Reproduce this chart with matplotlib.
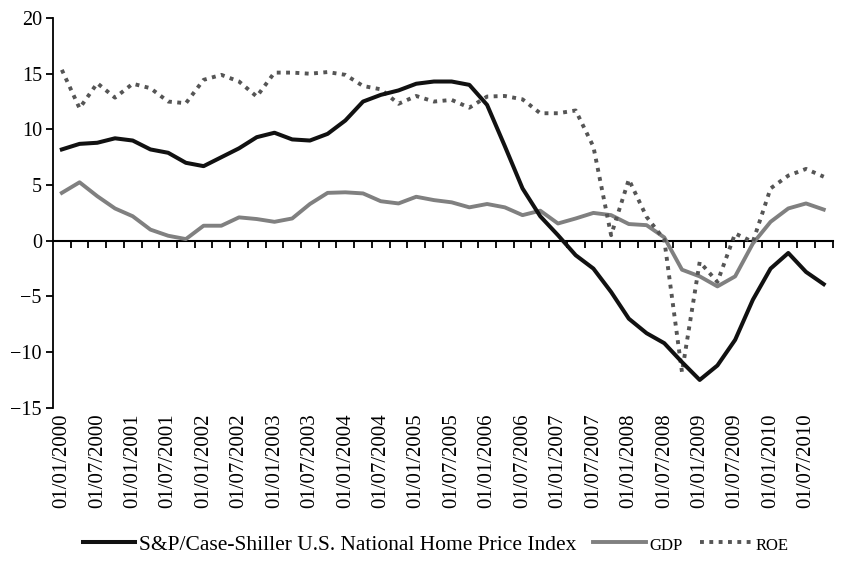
import matplotlib
matplotlib.use("Agg")
import matplotlib.pyplot as plt
import numpy as np

# Quarterly data 2000Q1 .. 2010Q4
dates = [f"01/{m:02d}/{y}" for y in range(2000, 2011) for m in (1, 4, 7, 10)]
label_every = 2

hpi = [8.2, 8.7, 8.8, 9.2, 9.0, 8.2, 7.9, 7.0, 6.7, 7.5, 8.3, 9.3,
       9.7, 9.1, 9.0, 9.6, 10.8, 12.5, 13.1, 13.5, 14.1, 14.3, 14.3, 14.0,
       12.2, 8.5, 4.7, 2.2, 0.5, -1.3, -2.5, -4.6, -7.0, -8.3, -9.2, -10.9,
       -12.5, -11.2, -8.9, -5.3, -2.5, -1.1, -2.8, -3.9]
gdp = [4.3, 5.25, 4.0, 2.9, 2.2, 1.0, 0.45, 0.15, 1.35, 1.35, 2.1, 1.95,
       1.7, 2.0, 3.3, 4.3, 4.35, 4.25, 3.55, 3.35, 3.95, 3.65, 3.45, 3.0,
       3.3, 3.0, 2.3, 2.7, 1.55, 2.0, 2.5, 2.3, 1.5, 1.4, 0.3, -2.6,
       -3.2, -4.1, -3.2, -0.25, 1.7, 2.9, 3.35, 2.8]
roe = [15.35, 11.9, 14.15, 12.85, 14.1, 13.7, 12.5, 12.35, 14.45, 14.9, 14.3, 12.95,
       15.1, 15.1, 15.0, 15.15, 14.9, 13.9, 13.6, 12.3, 13.0, 12.5, 12.65, 11.95,
       12.95, 13.0, 12.7, 11.45, 11.45, 11.7, 8.45, 0.5, 5.5, 2.15, 0.1, -11.8,
       -1.9, -3.7, 0.65, -0.1, 4.7, 5.85, 6.45, 5.75]

series_names = ["S&P/Case-Shiller U.S. National Home Price Index", "GDP", "ROE"]
yticks = [-15, -10, -5, 0, 5, 10, 15, 20]

plt.rcParams['font.family'] = ['Liberation Serif', 'DejaVu Serif']

fig = plt.figure(figsize=(8.41, 5.64), dpi=100)
ax = fig.add_axes([0.063, 0.277, 0.927, 0.691])

n = len(dates)
x = np.arange(n) + 0.5

ax.plot(x, hpi, color='#111111', lw=2.9, solid_joinstyle='round', label=series_names[0], zorder=4)
ax.plot(x, gdp, color='#808080', lw=2.8, solid_joinstyle='round', label=series_names[1], zorder=3)
ax.plot(x, roe, color='#555555', lw=2.8, linestyle=(0, (1, 1.4)), dash_capstyle='butt',
        label=series_names[2], zorder=3)

ax.set_xlim(0, n)
ax.set_ylim(-15, 20)
ax.set_yticks(yticks)
ax.tick_params(axis='y', direction='out', length=5, width=1.3, labelsize=14.5, pad=3)

for s in ['top', 'right']:
    ax.spines[s].set_visible(False)
ax.spines['left'].set_linewidth(1.3)
ax.spines['bottom'].set_position(('data', 0))
ax.spines['bottom'].set_linewidth(1.5)
ax.set_xticks(np.arange(1, n + 1))
ax.tick_params(axis='x', direction='out', length=5, width=1.3, labelbottom=False)

ax2 = ax.twiny()
ax2.set_xlim(0, n)
ax2.xaxis.set_ticks_position('bottom')
ax2.xaxis.set_label_position('bottom')
for s in ax2.spines.values():
    s.set_visible(False)
pos = x[::label_every]
ax2.set_xticks(pos)
ax2.set_xticklabels(dates[::label_every], rotation=90, fontsize=15)
ax2.tick_params(axis='x', length=0, pad=4)

handles, labels = ax.get_legend_handles_labels()
leg = fig.legend(handles, labels, loc='center', bbox_to_anchor=(0.518, 0.034), ncol=3,
                 frameon=False, fontsize=15.5, handlelength=2.45, handletextpad=0.15,
                 columnspacing=0.8)
leg.get_texts()[1].set_fontsize(12)
leg.get_texts()[2].set_fontsize(12)

fig.savefig("out.png", dpi=100)
